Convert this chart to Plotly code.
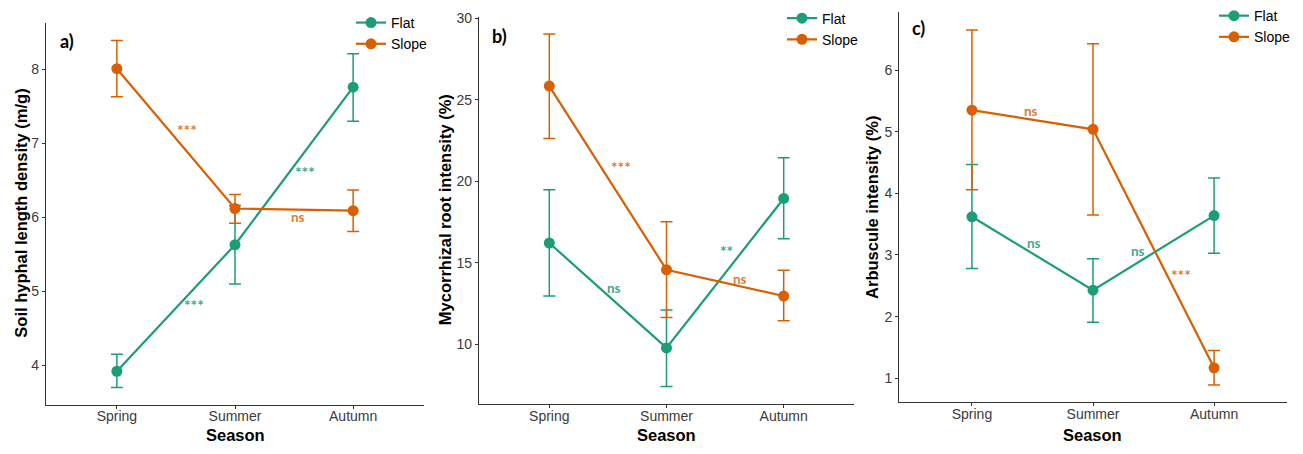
import plotly.graph_objects as go

seasons = ["Spring", "Summer", "Autumn"]
groups = ["Flat", "Slope"]

# Panel a: Soil hyphal length density (m/g)
a_flat = [3.92, 5.63, 7.76]
a_flat_lo = [3.70, 5.10, 7.30]
a_flat_hi = [4.15, 6.16, 8.21]
a_slope = [8.01, 6.12, 6.09]
a_slope_lo = [7.63, 5.92, 5.81]
a_slope_hi = [8.39, 6.31, 6.37]

# Panel b: Mycorrhizal root intensity (%)
b_flat = [16.22, 9.79, 18.95]
b_flat_lo = [12.97, 7.43, 16.48]
b_flat_hi = [19.49, 12.12, 21.45]
b_slope = [25.84, 14.58, 12.97]
b_slope_lo = [22.62, 11.65, 11.45]
b_slope_hi = [29.03, 17.52, 14.55]

# Panel c: Arbuscule intensity (%)
c_flat = [3.62, 2.43, 3.64]
c_flat_lo = [2.78, 1.91, 3.03]
c_flat_hi = [4.47, 2.94, 4.25]
c_slope = [5.35, 5.04, 1.17]
c_slope_lo = [4.06, 3.65, 0.89]
c_slope_hi = [6.65, 6.43, 1.45]

# significance labels: (text, group, x position, y position)
a_sig = [("***", "Slope", 0.59, 7.18), ("***", "Flat", 0.65, 4.81),
         ("***", "Flat", 1.59, 6.62), ("ns", "Slope", 1.53, 6.01)]
b_sig = [("***", "Slope", 0.61, 20.9), ("ns", "Flat", 0.55, 13.47),
         ("**", "Flat", 1.51, 15.76), ("ns", "Slope", 1.63, 14.04)]
c_sig = [("ns", "Slope", 0.49, 5.33), ("ns", "Flat", 0.51, 3.20),
         ("ns", "Flat", 1.37, 3.06), ("***", "Slope", 1.73, 2.67)]

a_ticks = [4, 5, 6, 7, 8]
b_ticks = [10, 15, 20, 25, 30]
c_ticks = [1, 2, 3, 4, 5, 6]

COL = {"Flat": "#1B9E77", "Slope": "#D95F02"}
SIGCOL = {"Flat": "#45A88C", "Slope": "#DB8035"}

W, H = 1303, 454

def px_x(p):
    return p / W

def px_y(p):
    return 1 - p / H

panels = [
    dict(key="", leg="legend", label="a)", title="Soil hyphal length density (m/g)",
         data={"Flat": (a_flat, a_flat_lo, a_flat_hi), "Slope": (a_slope, a_slope_lo, a_slope_hi)},
         sig=a_sig, ticks=a_ticks, yrange=[3.47, 8.63],
         xpx=(46, 424), ypx=(18, 404), ytitle_x=21, label_px=(66.7, 36),
         leg_px=(351, 2)),
    dict(key="2", leg="legend2", label="b)", title="Mycorrhizal root intensity (%)",
         data={"Flat": (b_flat, b_flat_lo, b_flat_hi), "Slope": (b_slope, b_slope_lo, b_slope_hi)},
         sig=b_sig, ticks=b_ticks, yrange=[6.36, 30.1],
         xpx=(479, 854), ypx=(11.7, 403.3), ytitle_x=445, label_px=(499.3, 31.7),
         leg_px=(782, -2.5)),
    dict(key="3", leg="legend3", label="c)", title="Arbuscule intensity (%)",
         data={"Flat": (c_flat, c_flat_lo, c_flat_hi), "Slope": (c_slope, c_slope_lo, c_slope_hi)},
         sig=c_sig, ticks=c_ticks, yrange=[0.61, 6.94],
         xpx=(899.3, 1286.7), ypx=(7.3, 401.7), ytitle_x=872.7, label_px=(918.7, 23.3),
         leg_px=(1214, -5)),
]

fig = go.Figure()
annotations = []
layout = {}

for p in panels:
    k = p["key"]
    xa, ya = "x" + k, "y" + k
    for g in groups:
        val, lo, hi = p["data"][g]
        fig.add_trace(go.Scatter(
            x=seasons, y=val, name=g, mode="lines+markers",
            xaxis=xa, yaxis=ya, legend=p["leg"],
            line=dict(color=COL[g], width=2.2),
            marker=dict(color=COL[g], size=11),
            error_y=dict(type="data", symmetric=False,
                         array=[h - v for h, v in zip(hi, val)],
                         arrayminus=[v - l for v, l in zip(val, lo)],
                         color=COL[g], thickness=1.5, width=6),
        ))
    x0, x1 = p["xpx"]
    y0, y1 = p["ypx"]
    axis_common = dict(showline=True, linecolor="#333333", linewidth=1.2,
                       ticks="outside", ticklen=3, tickcolor="#333333", tickwidth=1.1,
                       showgrid=False, zeroline=False,
                       tickfont=dict(family="Liberation Sans, Arial", size=14, color="#3A3A3A"))
    layout["xaxis" + k] = dict(axis_common, domain=[px_x(x0), px_x(x1)], anchor=ya,
                               type="category", categoryorder="array", categoryarray=seasons,
                               range=[-0.6, 2.6], ticklabelstandoff=-4)
    layout["yaxis" + k] = dict(axis_common, domain=[px_y(y1), px_y(y0)], anchor=xa,
                               range=p["yrange"], tickvals=p["ticks"])
    # y title
    annotations.append(dict(xref="paper", yref="paper", x=px_x(p["ytitle_x"]),
                            y=px_y((y0 + y1) / 2), text=p["title"], textangle=-90,
                            showarrow=False, xanchor="center", yanchor="middle",
                            font=dict(family="Liberation Sans, Arial", size=16.5, color="black", weight="bold")))
    # x title
    annotations.append(dict(xref=xa, yref="paper", x=1, y=px_y(434.5),
                            text="Season", showarrow=False, xanchor="center", yanchor="middle",
                            font=dict(family="Liberation Sans, Arial", size=16.5, color="black", weight="bold")))
    # panel label
    lx, ly = p["label_px"]
    annotations.append(dict(xref="paper", yref="paper", x=px_x(lx), y=px_y(ly),
                            text=p["label"], showarrow=False, xanchor="center", yanchor="middle",
                            font=dict(family="Lato, Open Sans", size=18, color="black", weight="bold")))
    # significance labels
    for txt, g, sx, sy in p["sig"]:
        size = 15.5 if "*" in txt else 13.5
        annotations.append(dict(xref=xa, yref=ya, x=sx, y=sy, text=txt, showarrow=False,
                                xanchor="center", yanchor="middle",
                                font=dict(family="Lato, Open Sans", size=size, color=SIGCOL[g], weight="bold")))
    lgx, lgy = p["leg_px"]
    layout[p["leg"]] = dict(x=px_x(lgx), y=px_y(lgy), xanchor="left", yanchor="top",
                            bgcolor="rgba(0,0,0,0)", tracegroupgap=0,
                            font=dict(family="Liberation Sans, Arial", size=14, color="black"))

fig.update_layout(**layout)
fig.update_layout(width=W, height=H, margin=dict(l=0, r=0, t=0, b=0),
                  plot_bgcolor="white", paper_bgcolor="white",
                  annotations=annotations, showlegend=True)

fig.write_html("out.html")
